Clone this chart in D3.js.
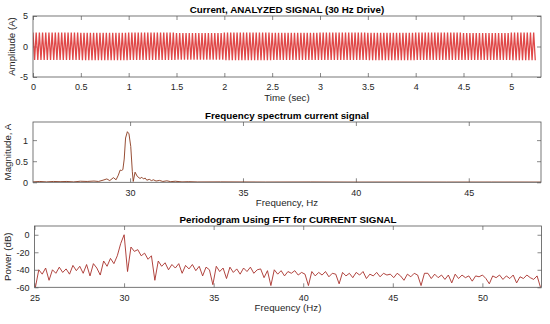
<!DOCTYPE html>
<html lang="en">
  <head>
    <meta charset="utf-8">
    <title>Current signal analysis</title>
    <script src="https://d3js.org/d3.v7.min.js"></script>
    <style>
      body { margin: 0; background: white; }
      text { font-family: "Liberation Sans", Arial, sans-serif; fill: #262626; }
      .tick line { stroke: #555; stroke-width: 0.7; }
      .title { font-weight: bold; font-size: 9.8px; fill: #000; }
      .lab { font-size: 9.7px; }
    </style>
  </head>
  <body>
    <script>
      // --- top panel: time signal (30 Hz drive), peak values per 0.5 s slice
      var driveHz = 30;
      var sigEnd = 5.25;
      var peakHi = [2.3, 2.25, 2.3, 2.2, 2.3, 2.25, 2.3, 2.25, 2.3, 2.2, 2.3];
      var peakLo = [-2.2, -2.25, -2.2, -2.15, -2.25, -2.2, -2.2, -2.25, -2.2, -2.2, -2.25];
      var timeTicks = [0, 0.5, 1, 1.5, 2, 2.5, 3, 3.5, 4, 4.5, 5];
      var ampTicks = [-5, 0, 5];

      // --- middle panel: magnitude spectrum
      var specFreq = [25.7, 26.0, 26.3, 26.6, 26.9, 27.2, 27.5, 27.8, 28.1, 28.4, 28.6, 28.8,
        28.97, 29.1, 29.26, 29.38, 29.48, 29.56, 29.62, 29.68, 29.74, 29.8, 29.88, 29.95,
        30.03, 30.1, 30.14, 30.22, 30.32, 30.44, 30.52, 30.59, 30.67, 30.74, 30.85, 30.95,
        31.03, 31.15, 31.3, 31.45, 31.63, 31.8, 32.0, 32.3, 32.6, 33, 34, 36, 38, 40, 42,
        44, 46, 48.2];
      var specMag = [0.01, 0.02, 0.01, 0.02, 0.015, 0.02, 0.01, 0.025, 0.02, 0.03, 0.02, 0.05,
        0.08, 0.04, 0.11, 0.06, 0.17, 0.29, 0.28, 0.30, 0.55, 1.05, 1.2, 1.15,
        0.85, 0.25, 0.02, 0.24, 0.14, 0.09, 0.12, 0.08, 0.1, 0.05, 0.07, 0.04,
        0.06, 0.03, 0.045, 0.02, 0.035, 0.015, 0.025, 0.01, 0.015, 0.008, 0.01, 0.006, 0.008, 0.005, 0.006,
        0.005, 0.006, 0.005];
      var specTicks = [30, 35, 40, 45];
      var magTicks = [0, 0.5, 1];

      // --- bottom panel: periodogram (dB), bins every 0.1905 Hz from 25.05 Hz
      var pgStart = 25.05;
      var pgStep = 0.1905;
      var pgDb = [
        -60, -40, -45, -38, -52, -40, -44, -37, -43, -39,
        -45, -35, -41, -36, -44, -34, -47, -33, -38, -46,
        -30, -36, -27, -33, -24, -10, 0, -42, -14, -19,
        -17, -24, -21, -28, -24, -52, -30, -36, -32, -40,
        -34, -38, -33, -44, -35, -39, -34, -41, -36, -47,
        -37, -40, -57, -36, -42, -38, -50, -37, -43, -39,
        -45, -38, -42, -37, -44, -40, -39, -49, -41, -58,
        -40, -45, -41, -47, -42, -44, -41, -46, -43, -45,
        -58, -42, -47, -43, -46, -42, -48, -44, -45, -56,
        -43, -47, -44, -49, -43, -46, -42, -50, -45, -47,
        -43, -48, -44, -46, -45, -49, -44, -47, -52, -45,
        -48, -44, -46, -58, -44, -44, -50, -45, -49, -46,
        -51, -46, -55, -45, -50, -46, -49, -47, -53, -47,
        -48, -46, -50, -56, -47, -49, -46, -51, -47, -50,
        -46, -55, -48, -50, -46, -49, -51, -47, -60];
      var pgTicks = [25, 30, 35, 40, 45, 50];
      var dbTicks = [-60, -40, -20, 0];

      var svg = d3.select("body").append("svg").attr("width", 550).attr("height", 324);
      var fmt = function(d) { return String(d); };

      function panel(p) {
        var x = d3.scaleLinear().domain(p.xd).range([p.left, p.right]);
        var y = d3.scaleLinear().domain(p.yd).range([p.bottom, p.top]);
        var g = svg.append("g");
        g.append("g").attr("transform", "translate(0," + p.bottom + ")")
        .call(d3.axisBottom(x).tickValues(p.xt).tickFormat(fmt)
          .tickSizeInner(-4).tickSizeOuter(0).tickPadding(7))
        .attr("font-size", 9).attr("font-family", null);
        g.append("g").attr("transform", "translate(0," + p.top + ")")
        .call(d3.axisTop(x).tickValues(p.xt).tickSizeInner(-4).tickSizeOuter(0).tickFormat(""));
        g.append("g").attr("transform", "translate(" + p.left + ",0)")
        .call(d3.axisLeft(y).tickValues(p.yt).tickFormat(fmt)
          .tickSizeInner(-4).tickSizeOuter(0).tickPadding(5))
        .attr("font-size", 9).attr("font-family", null);
        g.append("g").attr("transform", "translate(" + p.right + ",0)")
        .call(d3.axisRight(y).tickValues(p.yt).tickSizeInner(-4).tickSizeOuter(0).tickFormat(""));
        g.selectAll(".domain").remove();
        g.selectAll(".tick text").attr("fill", "#262626");

        var id = "clip" + p.top;
        svg.append("clipPath").attr("id", id).append("rect")
        .attr("x", p.left).attr("y", p.top)
        .attr("width", p.right - p.left).attr("height", p.bottom - p.top);
        g.append("path").datum(p.pts).attr("clip-path", "url(#" + id + ")")
        .attr("fill", "none").attr("stroke", p.color).attr("stroke-width", p.sw)
        .attr("d", d3.line().x(function(d) { return x(d[0]); }).y(function(d) { return y(d[1]); }));

        g.append("rect").attr("x", p.left).attr("y", p.top)
        .attr("width", p.right - p.left).attr("height", p.bottom - p.top)
        .attr("fill", "none").attr("stroke", "#555").attr("stroke-width", 0.8);

        var cx = (p.left + p.right) / 2;
        g.append("text").attr("class", "title").attr("text-anchor", "middle")
        .attr("x", cx).attr("y", p.top - 3.5).text(p.title);
        g.append("text").attr("class", "lab").attr("text-anchor", "middle")
        .attr("x", cx).attr("y", p.bottom + 24).text(p.xlabel);
        g.append("text").attr("class", "lab").attr("text-anchor", "middle")
        .attr("transform", "rotate(-90)")
        .attr("x", -(p.top + p.bottom) / 2).attr("y", p.ylx).text(p.ylabel);
      }

      // time signal: one extreme per half cycle of the drive
      var sig = [];
      for (var k = 0; k <= Math.floor(sigEnd * 2 * driveHz); k++) {
        var t = k / (2 * driveHz);
        var s = Math.min(Math.floor(t / 0.5), peakHi.length - 1);
        sig.push([t, k % 2 ? peakLo[s] : peakHi[s]]);
      }
      panel({left: 33, right: 541, top: 16, bottom: 77, xd: [0, 5.31], yd: [-5, 5],
        xt: timeTicks, yt: ampTicks, pts: sig, color: "#e04848", sw: 1.3,
        title: "Current, ANALYZED SIGNAL (30 Hz Drive)", xlabel: "Time (sec)",
        ylabel: "Amplitude (A)", ylx: 15});

      panel({left: 33, right: 541, top: 122, bottom: 182.3, xd: [25.7, 48.2], yd: [0, 1.43],
        xt: specTicks, yt: magTicks,
        pts: specFreq.map(function(f, i) { return [f, specMag[i]]; }),
        color: "#8b3a1e", sw: 0.9,
        title: "Frequency spectrum current signal", xlabel: "Frequency, Hz",
        ylabel: "Magnitude, A", ylx: 11});

      panel({left: 34.5, right: 541.5, top: 226, bottom: 287.3, xd: [25, 53.3], yd: [-60, 10],
        xt: pgTicks, yt: dbTicks,
        pts: pgDb.map(function(v, i) { return [pgStart + i * pgStep, v]; }),
        color: "#a8302a", sw: 0.9,
        title: "Periodogram Using FFT for CURRENT SIGNAL", xlabel: "Frequency (Hz)",
        ylabel: "Power (dB)", ylx: 11});
    </script>
  </body>
</html>
